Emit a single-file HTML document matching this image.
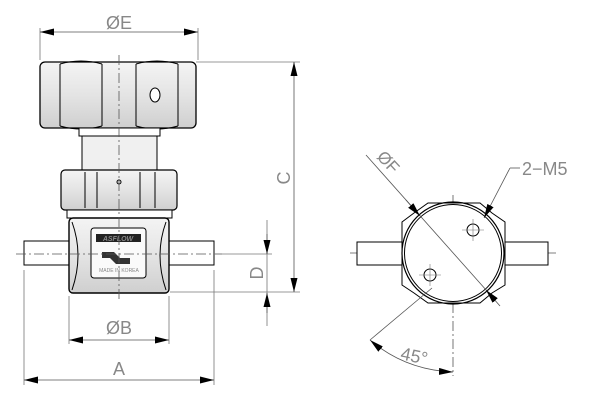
<!DOCTYPE html>
<html><head><style>
html,body{margin:0;padding:0;background:#fff;}
svg{display:block;}
text{font-family:"Liberation Sans",sans-serif;fill:#888;}
</style></head><body>
<svg width="600" height="420" viewBox="0 0 600 420" xmlns="http://www.w3.org/2000/svg">
<defs>
<marker id="ar" viewBox="0 0 10 10" refX="10" refY="5" markerWidth="14" markerHeight="7" orient="auto-start-reverse" markerUnits="userSpaceOnUse" preserveAspectRatio="none"><path d="M0,0 L10,5 L0,10z" fill="#000"/></marker>
<linearGradient id="g" x1="0" y1="0" x2="0" y2="1"><stop offset="0" stop-color="#f4f4f4"/><stop offset="0.5" stop-color="#e4e4e4"/><stop offset="1" stop-color="#cfcfcf"/></linearGradient>
</defs>
<g stroke="#000" fill="none" stroke-width="1">
<rect x="40" y="62" width="156" height="66" rx="5" fill="url(#g)" stroke-width="1.3"/>
<path d="M60,64 Q81,58 102,64 M60,126 Q81,132 102,126 M136,64 Q157,58 178,64 M136,126 Q157,132 178,126" />
<line x1="60" y1="64" x2="60" y2="126"/><line x1="178" y1="64" x2="178" y2="126"/>
<line x1="102" y1="64" x2="102" y2="126"/><line x1="136" y1="64" x2="136" y2="126"/>
<ellipse cx="155" cy="95" rx="5" ry="7" fill="#fff"/>
<rect x="79" y="128" width="81" height="8" fill="#fff"/>
<rect x="82" y="136" width="75" height="34" fill="#f0f0f0"/>
<rect x="61" y="170" width="116" height="40" rx="4" fill="url(#g)" stroke-width="1.2"/>
<line x1="85" y1="172" x2="85" y2="208"/><line x1="97" y1="172" x2="97" y2="208"/>
<line x1="140" y1="172" x2="140" y2="208"/><line x1="155" y1="172" x2="155" y2="208"/>
<circle cx="119" cy="182" r="2"/>
<rect x="67" y="210" width="105" height="8" fill="#fff"/>
<rect x="24" y="241" width="45" height="24" fill="#fff"/>
<rect x="169" y="241" width="45" height="24" fill="#fff"/>
<rect x="69" y="218" width="100" height="75" rx="4" fill="url(#g)" stroke-width="1.4"/>
<path d="M72,222 Q84,255 72,290 M166,222 Q154,255 166,290"/>
<rect x="91" y="228" width="55" height="50" rx="3" fill="#fafafa"/>
<rect x="96" y="234" width="45" height="8" fill="#222" stroke="none"/>
<path d="M102,252 l12,0 l6,6 l10,0 l0,6 l-14,0 l-6,-6 l-8,0z" fill="#333" stroke="none"/>
</g>
<text x="119" y="272" font-size="5" text-anchor="middle" fill="#333">MADE IN KOREA</text>
<text x="118" y="241" font-size="7" text-anchor="middle" fill="#fff" font-weight="bold" font-style="italic">ASFLOW</text>
<g stroke="#555" stroke-width="0.8" stroke-dasharray="10,3,2,3" fill="none">
<line x1="119" y1="55" x2="119" y2="300"/>
<line x1="16" y1="254" x2="222" y2="254"/>
<line x1="350" y1="253" x2="556" y2="253"/>
<line x1="453" y1="195" x2="453" y2="376"/>
<circle cx="453" cy="253" r="31"/>
</g>
<g stroke="#777" stroke-width="0.8" fill="none">
<line x1="40" y1="28" x2="40" y2="60"/><line x1="198" y1="28" x2="198" y2="60"/>
<line x1="196" y1="62" x2="300" y2="62"/><line x1="170" y1="292" x2="300" y2="292"/>
<line x1="214" y1="254" x2="272" y2="254"/>
<line x1="267" y1="220" x2="267" y2="326"/>
<line x1="69" y1="296" x2="69" y2="344"/><line x1="169" y1="296" x2="169" y2="344"/>
<line x1="24" y1="270" x2="24" y2="385"/><line x1="214" y1="270" x2="214" y2="385"/>
</g>
<g stroke="#555" stroke-width="0.8" fill="none">
<line x1="40" y1="32" x2="198" y2="32" marker-start="url(#ar)" marker-end="url(#ar)"/>
<line x1="294" y1="62" x2="294" y2="292" marker-start="url(#ar)" marker-end="url(#ar)"/>
<line x1="267" y1="234" x2="267" y2="254" marker-end="url(#ar)"/>
<line x1="267" y1="313" x2="267" y2="293" marker-end="url(#ar)"/>
<line x1="69" y1="340" x2="169" y2="340" marker-start="url(#ar)" marker-end="url(#ar)"/>
<line x1="24" y1="380" x2="214" y2="380" marker-start="url(#ar)" marker-end="url(#ar)"/>
</g>
<text x="119" y="29" font-size="18" text-anchor="middle">ØE</text>
<text x="119" y="334" font-size="18" text-anchor="middle">ØB</text>
<text x="119" y="375" font-size="18" text-anchor="middle">A</text>
<text transform="translate(290,178) rotate(-90)" font-size="18" text-anchor="middle">C</text>
<text transform="translate(263,273) rotate(-90)" font-size="18" text-anchor="middle">D</text>
<g stroke="#000" fill="none" stroke-width="1">
<rect x="357" y="242" width="45" height="23" fill="#fff"/>
<rect x="505" y="242" width="43" height="23" fill="#fff"/>
<polygon points="428,203 480,203 492,213 505,222 505,285 492,293 480,303 428,303 414,293 402,285 402,222 414,213" fill="#fff"/>
<circle cx="453" cy="253" r="51" stroke-width="1.2"/>
<circle cx="453" cy="253" r="48.5"/>
<circle cx="473" cy="230" r="6" fill="#fff"/>
<circle cx="430" cy="275" r="6" fill="#fff"/>
</g>
<g stroke="#777" stroke-width="0.6">
<line x1="462" y1="230" x2="484" y2="230"/><line x1="473" y1="219" x2="473" y2="241"/>
<line x1="419" y1="275" x2="441" y2="275"/><line x1="430" y1="264" x2="430" y2="286"/>
</g>
<g stroke="#555" stroke-width="0.8" fill="none">
<line x1="366" y1="155" x2="495" y2="300"/>
<line x1="420" y1="216" x2="406" y2="200" marker-start="url(#ar)"/>
<line x1="486" y1="290" x2="500" y2="306" marker-start="url(#ar)"/>
<line x1="484" y1="218" x2="510" y2="168" marker-start="url(#ar)"/>
<line x1="510" y1="168" x2="520" y2="168"/>
<line x1="432" y1="288" x2="370" y2="340"/>
<path d="M370,340 Q405,370 453,372" marker-start="url(#ar)" marker-end="url(#ar)"/>
</g>
<text transform="translate(384,166) rotate(47)" font-size="17" text-anchor="middle">ØF</text>
<text x="522" y="175" font-size="18">2−M5</text>
<text transform="translate(413,362) rotate(12)" font-size="18" text-anchor="middle">45°</text>
</svg>
</body></html>
